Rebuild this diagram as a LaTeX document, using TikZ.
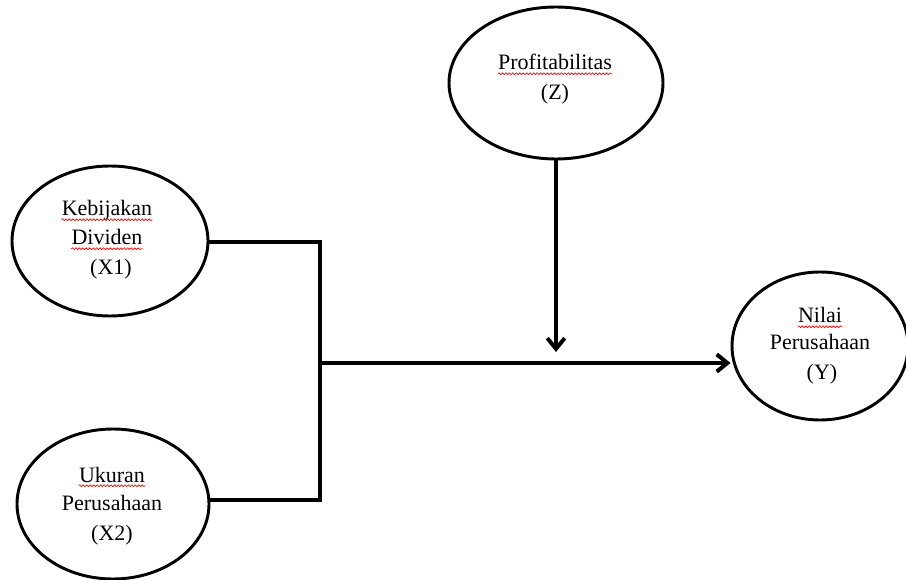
\documentclass[tikz,border=0pt]{standalone}
\usepackage{fontspec}
\setmainfont{Liberation Serif}
\usepackage{tikz}
\usetikzlibrary{arrows.meta,shapes.geometric,decorations.pathmorphing}
\usepackage{xcolor}

\begin{document}
\begin{tikzpicture}[
      x=0.75pt, y=-0.75pt,
      every node/.style={font=\fontsize{16.5}{22.5}\selectfont},
      varbox/.style={
        ellipse, draw, line width=2.2pt, inner sep=0pt
      },
      txt/.style={anchor=base, inner sep=0pt},
      wave/.style={red, line width=0.5pt,
        decorate, decoration={snake, amplitude=0.7pt, segment length=2.6pt}},
      line/.style={line width=3pt},
      arr/.style={-{Straight Barb[length=8pt, width=13pt]}, line width=3pt}
    ]
    \useasboundingbox (0,0) rectangle (906,580);

    % ===== Variables =====
    \node[varbox, minimum width=160.5pt, minimum height=114pt] (z) at (556, 83) {};
    \node[varbox, minimum width=147pt, minimum height=112.5pt] (x1) at (110, 241) {};
    \node[varbox, minimum width=144pt, minimum height=112.5pt] (x2) at (113, 504) {};
    \node[varbox, minimum width=132pt, minimum height=111pt] (y) at (820, 346) {};

    % ===== Texts =====
    \node[txt] (zname) at (555, 70) {Profitabilitas};
    \node[txt] (zsym) at (555, 100) {(Z)};
    \node[txt] (x1name) at (107, 216) {Kebijakan};
    \node[txt] (x1name2) at (107, 245) {Dividen};
    \node[txt] (x1sym) at (111, 275) {(X1)};
    \node[txt] (x2name) at (112, 482) {Ukuran};
    \node[txt] (x2name2) at (112, 510) {Perusahaan};
    \node[txt] (x2sym) at (112, 540) {(X2)};
    \node[txt] (yname) at (820, 323) {Nilai};
    \node[txt] (yname2) at (820, 350) {Perusahaan};
    \node[txt] (ysym) at (822, 380) {(Y)};

    % ===== Spell-check waves =====
    \foreach \w in {zname, x1name, x1name2, x2name, yname}
      \draw[wave] ([yshift=-2.8pt]\w.base west) -- ([yshift=-2.8pt]\w.base east);

    % ===== Junction points =====
    \coordinate (jtop) at (320, 242);
    \coordinate (jmid) at (320, 363);
    \coordinate (jbot) at (320, 500);
    \coordinate (zend) at (556, 352);

    % ===== Connectors =====
    \draw[line] (x1.east |- jtop) -- (jtop) -- (jbot) -- (x2.east |- jbot);
    \draw[arr] (jmid) -- (jmid -| y.west);
    \draw[arr] (z) -- (zend);
  \end{tikzpicture}
\end{document}
